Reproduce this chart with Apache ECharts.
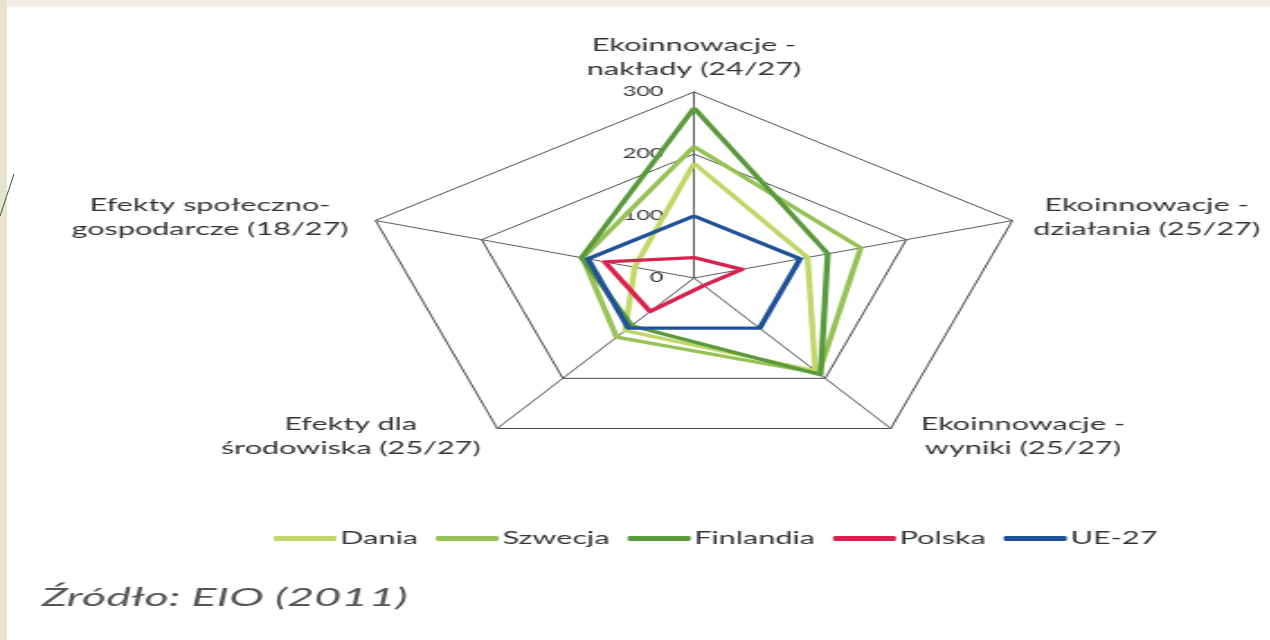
<!DOCTYPE html>
<html>
<head>
<meta charset="utf-8">
<script src="https://cdn.jsdelivr.net/npm/echarts@6/dist/echarts.min.js"></script>
<style>
  html, body { margin: 0; padding: 0; background: #fff; }
  #wrap { position: relative; width: 1270px; height: 640px; overflow: hidden; background: #fff; }
  #topband { position: absolute; left: 0; top: 0; width: 1270px; height: 7px; background: #f1efe3; }
  #leftband { position: absolute; left: 0; top: 0; width: 7px; height: 640px; background: #e6e3cf; }
  #deco { position: absolute; left: 0; top: 0; }
  #chart { position: absolute; left: 0; top: 0; height: 640px; transform-origin: 0 0; }
</style>
</head>
<body>
<div id="wrap">
  <div id="topband"></div>
  <div id="leftband"></div>
  <svg id="deco" width="30" height="640"><line x1="0" y1="216" x2="14" y2="174" stroke="#4b5a3a" stroke-width="1"/></svg>
  <div id="chart"></div>
</div>
<script>
// Eco-innovation scoreboard components (EU-27 = 100), listed clockwise from the top
const indicators = [
  'Ekoinnowacje -\nnakłady (24/27)',
  'Ekoinnowacje -\ndziałania (25/27)',
  'Ekoinnowacje -\nwyniki (25/27)',
  'Efekty dla\nśrodowiska (25/27)',
  'Efekty społeczno-\ngospodarcze (18/27)'
];
const seriesNames = ['Dania', 'Szwecja', 'Finlandia', 'Polska', 'UE-27'];
const dania     = [185, 107, 185, 105, 56];
const szwecja   = [212, 157, 190, 118, 105];
const finlandia = [274, 126, 193, 95, 106];
const polska    = [33, 45, 15, 67, 84];
const ue27      = [100, 100, 100, 100, 100];
const axisMax = 300;

const colors = ['#c0d86a', '#96c257', '#5a9a3c', '#d8234e', '#1f5296'];
const values = [dania, szwecja, finlandia, polska, ue27];

// ECharts places radar axes counter-clockwise; this order makes them run clockwise
const order = [0, 4, 3, 2, 1];
const pick = arr => order.map(k => arr[k]);

// The whole figure is laid out on a narrower canvas and widened horizontally
const SX = 1.8;
const W = 1270 / SX;
const el = document.getElementById('chart');
el.style.width = W + 'px';
el.style.transform = 'scaleX(' + SX + ')';

// per-axis name boxes: each line centred inside a fixed-width box
const nameBoxW = [130, 130, 135, 151, 165];
const rich = {};
nameBoxW.forEach((w, i) => {
  rich['n' + i] = { width: w, align: 'center', fontFamily: 'Lato', fontSize: 17, lineHeight: 24, color: '#333' };
});

const chart = echarts.init(el, null, { renderer: 'canvas' });
chart.setOption({
  animation: false,
  backgroundColor: 'transparent',
  title: {
    text: 'Źródło: EIO (2011)',
    left: 18,
    top: 580,
    textStyle: { fontFamily: 'Lato', fontStyle: 'italic', fontWeight: 'normal', fontSize: 26, color: '#555' }
  },
  legend: {
    data: seriesNames,
    left: 147,
    top: 525,
    icon: 'roundRect',
    itemWidth: 35,
    itemHeight: 5,
    itemGap: 10,
    textStyle: { fontFamily: 'Lato', fontSize: 17, color: '#333', padding: [0, 0, 0, -3] }
  },
  radar: {
    center: [694 / SX, 278],
    radius: 186,
    startAngle: 90,
    splitNumber: 3,
    shape: 'polygon',
    nameGap: 10,
    indicator: pick(indicators).map((n, i) => {
      const o = { name: n, min: 0, max: axisMax };
      if (i === 0) o.axisLabel = { show: true };
      return o;
    }),
    axisName: {
      color: '#333',
      fontFamily: 'Lato',
      fontSize: 17,
      lineHeight: 24,
      formatter: function (value) {
        const i = indicators.indexOf(value);
        return value.split('\n').map(s => '{n' + i + '|' + s + '}').join('\n');
      },
      rich: rich
    },
    axisLabel: { show: false, color: '#333', fontFamily: 'Lato', fontSize: 13, margin: 17 },
    axisTick: { show: false },
    axisLine: { lineStyle: { color: '#5a5a5a', width: 1 } },
    splitLine: { lineStyle: { color: '#4a4a4a', width: 1 } },
    splitArea: { show: false }
  },
  series: [{
    type: 'radar',
    symbol: 'none',
    data: seriesNames.map((n, i) => ({
      name: n,
      value: pick(values[i]),
      lineStyle: { color: colors[i], width: 3.3 },
      itemStyle: { color: colors[i] }
    }))
  }]
});
</script>
</body>
</html>
